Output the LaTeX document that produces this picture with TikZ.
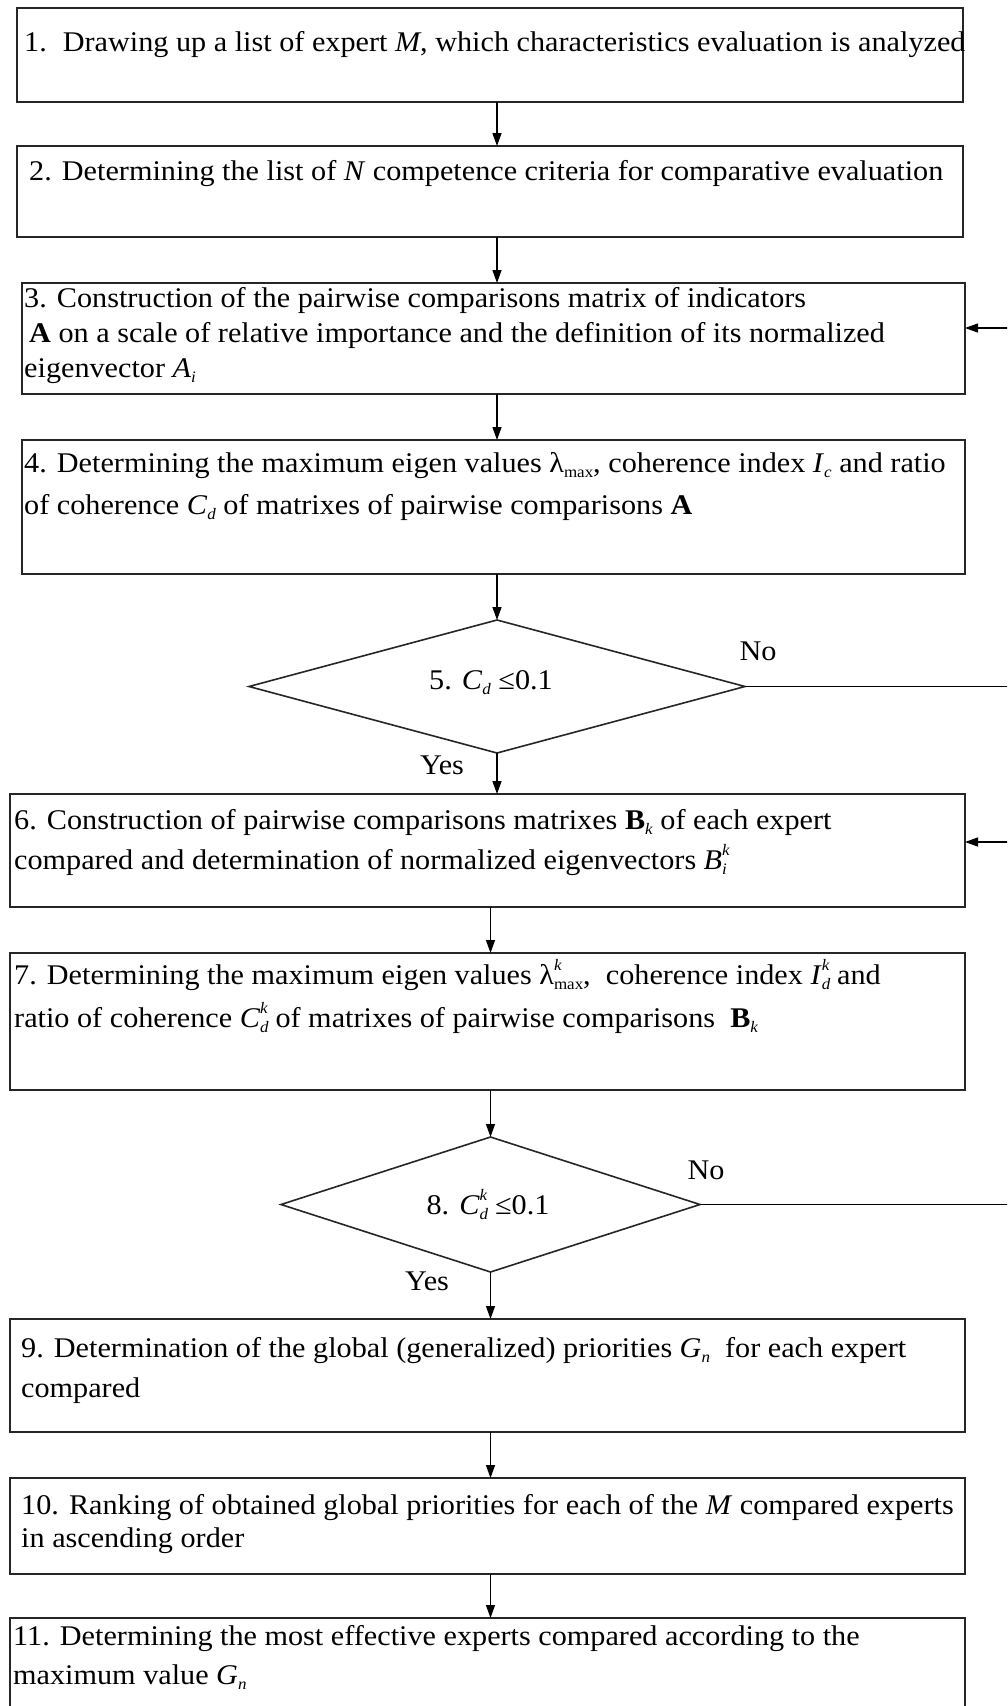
\documentclass[tikz,border=0pt]{standalone}
\usepackage{fontspec}
\setmainfont{Liberation Serif}[FakeStretch=1.06]
\usetikzlibrary{shapes.geometric,arrows.meta}
\newcommand\vi[1]{\textit{#1}}
\newcommand\lsub[1]{\raisebox{-0.45ex}{\fontsize{16}{16}\selectfont #1}}
\newcommand\lsup[1]{\raisebox{1.05ex}{\fontsize{16}{16}\selectfont #1}}
\newcommand\sbs[2]{\textit{#1}\lsub{\textit{#2}}}
\newcommand\sbsp[3]{\textit{#1}\makebox[0pt][l]{\lsub{\textit{#2}}}\lsup{\textit{#3}}}
\newcommand\widesubsup[2]{\makebox[0pt][l]{\lsub{#1}}\makebox[0pt][l]{\lsup{#2}}\phantom{\lsub{#1}}}
\begin{document}
\begin{tikzpicture}[x=1pt,y=-1pt,
  box/.style={draw=black!85,line width=1.6pt,rectangle,inner sep=0pt,outer sep=0pt},
  dmd/.style={draw=black!85,line width=1.6pt,diamond,inner sep=0pt,outer sep=0pt},
  txt/.style={anchor=base west,inner sep=0pt,font=\fontsize{28.5}{32}\selectfont},
  ctxt/.style={anchor=base,inner sep=0pt,font=\fontsize{28.5}{32}\selectfont},
  arr/.style={draw=black,line width=1.3pt,-{Triangle[length=13pt,width=9pt]}},
  ln/.style={draw=black,line width=1.3pt}]
\clip (0,0) rectangle (1007,1706);
\fill[white] (0,0) rectangle (1007,1706);

% boxes
\node[box,minimum width=946pt,minimum height=94pt] (b1) at (490,55) {};
\node[box,minimum width=946pt,minimum height=91pt] (b2) at (490,191.5) {};
\node[box,minimum width=943pt,minimum height=111pt] (b3) at (493.5,338.5) {};
\node[box,minimum width=943pt,minimum height=134pt] (b4) at (493.5,507) {};
\node[dmd,minimum width=496pt,minimum height=133pt] (d5) at (497,686.5) {};
\node[box,minimum width=955pt,minimum height=113pt] (b6) at (487.5,850.5) {};
\node[box,minimum width=955pt,minimum height=137pt] (b7) at (487.5,1021.5) {};
\node[dmd,minimum width=419pt,minimum height=135pt] (d8) at (490.5,1204.5) {};
\node[box,minimum width=955pt,minimum height=113pt] (b9) at (487.5,1375.5) {};
\node[box,minimum width=955pt,minimum height=96pt] (b10) at (487.5,1526) {};
\node[box,minimum width=955pt,minimum height=112pt] (b11) at (487.5,1674) {};

% texts
\node[txt] (t1) at (24,51) {1.\hspace*{16pt}Drawing up a list of expert \vi{M}, which characteristics evaluation is analyzed};
\node[txt] (t2) at (29,180) {2. Determining the list of \vi{N} competence criteria for comparative evaluation};
\node[txt] (t3a) at (24,307) {3. Construction of the pairwise comparisons matrix of indicators};
\node[txt] (t3b) at (29,342) {\textbf{A} on a scale of relative importance and the definition of its normalized};
\node[txt] (t3c) at (24,377) {eigenvector \sbs{A}{i}};
\node[txt] (t4a) at (24,472) {4. Determining the maximum eigen values λ\lsub{max}, coherence index \sbs{I}{c} and ratio};
\node[txt] (t4b) at (24,514) {of coherence \sbs{C}{d} of matrixes of pairwise comparisons \textbf{A}};
\node[ctxt] (t5) at (491,689) {5. \sbs{C}{d} ≤0.1};
\node[txt] (t6a) at (14,829) {6. Construction of pairwise comparisons matrixes \textbf{B}\lsub{\textit{k}} of each expert};
\node[txt] (t6b) at (14,869) {compared and determination of normalized eigenvectors \sbsp{B}{i}{k}};
\node[txt] (t7a) at (14,984) {7. Determining the maximum eigen values λ\widesubsup{max}{\textit{k}},\ \ coherence index \sbsp{I}{d}{k} and};
\node[txt] (t7b) at (14,1027) {ratio of coherence \sbsp{C}{d}{k} of matrixes of pairwise comparisons\ \ \textbf{B}\lsub{\textit{k}}};
\node[ctxt] (t8) at (488,1214) {8. \sbsp{C}{d}{k} ≤0.1};
\node[txt] (t9a) at (21,1357) {9. Determination of the global (generalized) priorities \sbs{G}{n}\ \ for each expert};
\node[txt] (t9b) at (21,1397) {compared};
\node[txt] (t10a) at (21,1514) {10. Ranking of obtained global priorities for each of the \vi{M} compared experts};
\node[txt] (t10b) at (21,1547) {in ascending order};
\node[txt] (t11a) at (13,1645) {11. Determining the most effective experts compared according to the};
\node[txt] (t11b) at (13,1684) {maximum value \sbs{G}{n}};

% labels
\node[ctxt] (no5) at (758,660) {No};
\node[ctxt] (yes5) at (442,774) {Yes};
\node[ctxt] (no8) at (706,1179) {No};
\node[ctxt] (yes8) at (427,1290) {Yes};

% feedback coordinates
\coordinate (r5) at (1012,686.5);
\coordinate (r3) at (1012,328);
\coordinate (r8) at (1012,1204.5);
\coordinate (r6) at (1012,842);

% connectors
\draw[arr] (b1.south -| d5.north) -- (b2.north -| d5.north);
\draw[arr] (b2.south -| d5.north) -- (b3.north -| d5.north);
\draw[arr] (b3.south -| d5.north) -- (b4.north -| d5.north);
\draw[arr] (b4.south -| d5.north) -- (d5.north);
\draw[arr] (d5.south) -- (b6.north -| d5.south);
\draw[arr] (b6.south -| d8.north) -- (b7.north -| d8.north);
\draw[arr] (b7.south -| d8.north) -- (d8.north);
\draw[arr] (d8.south) -- (b9.north -| d8.south);
\draw[arr] (b9.south -| d8.north) -- (b10.north -| d8.north);
\draw[arr] (b10.south -| d8.north) -- (b11.north -| d8.north);
\draw[ln] (d5.east) -- (r5);
\draw[arr] (r3) -- (r3 -| b3.east);
\draw[ln] (d8.east) -- (r8);
\draw[arr] (r6) -- (r6 -| b6.east);
\end{tikzpicture}
\end{document}
